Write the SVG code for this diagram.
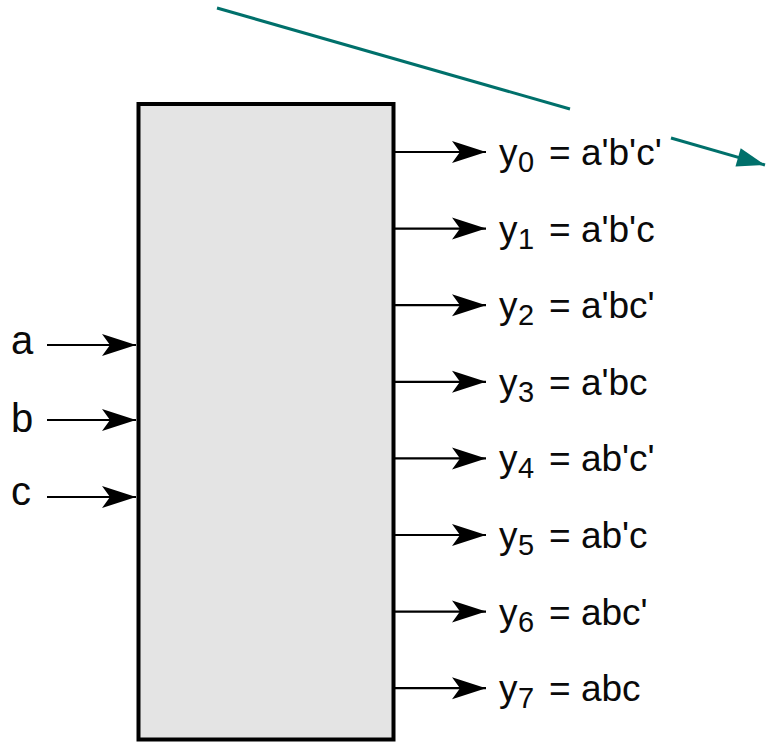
<svg xmlns="http://www.w3.org/2000/svg" width="766" height="742" viewBox="0 0 766 742">
<defs>
<style>
.lbl{font-family:"Liberation Sans",Arial,sans-serif;font-size:37px;fill:#0a0a0a}
.in{font-family:"Liberation Sans",Arial,sans-serif;font-size:40px;fill:#0a0a0a}
.sub{font-size:29px}
.wire{stroke:#000;stroke-width:2.2;fill:none;marker-end:url(#ah)}
.teal{stroke:#00706b;stroke-width:3;fill:none}
</style>
<marker id="ah" markerUnits="userSpaceOnUse" markerWidth="36" markerHeight="24" refX="34" refY="11" orient="auto" overflow="visible">
<path d="M0,0 L34,11 L0,22 L8,11 z" fill="#000"/>
</marker>
<marker id="th" markerUnits="userSpaceOnUse" markerWidth="30" markerHeight="20" refX="28" refY="9.5" orient="auto" overflow="visible">
<path d="M0,0 L28,9.5 L0,19 z" fill="#00706b"/>
</marker>
</defs>
<rect width="766" height="742" fill="#fff"/>
<g id="decoder">
<rect x="138.5" y="104" width="255" height="635.5" fill="#e4e4e4" stroke="#000" stroke-width="4"/>
</g>
<g id="connectors">
<line class="wire" x1="47" y1="345" x2="136" y2="345"/>
<line class="wire" x1="47" y1="420" x2="136" y2="420"/>
<line class="wire" x1="47" y1="497" x2="136" y2="497"/>
<line class="wire" x1="395" y1="152" x2="486" y2="152"/>
<line class="wire" x1="395" y1="228.6" x2="486" y2="228.6"/>
<line class="wire" x1="395" y1="305.2" x2="486" y2="305.2"/>
<line class="wire" x1="395" y1="381.8" x2="486" y2="381.8"/>
<line class="wire" x1="395" y1="458.4" x2="486" y2="458.4"/>
<line class="wire" x1="395" y1="535" x2="486" y2="535"/>
<line class="wire" x1="395" y1="611.6" x2="486" y2="611.6"/>
<line class="wire" x1="395" y1="688.2" x2="486" y2="688.2"/>
<line class="teal" x1="217" y1="8" x2="570" y2="109"/>
<line class="teal" x1="671" y1="138" x2="765" y2="165" marker-end="url(#th)"/>
</g>
<g id="inputs">
<text class="in" x="11" y="354">a</text>
<text class="in" x="11" y="432">b</text>
<text class="in" x="11" y="505">c</text>
</g>
<g id="outputs">
<text class="lbl" x="499" y="165">y</text><text class="lbl sub" x="518" y="172">0</text><text class="lbl" x="549" y="165">= a'b'c'</text>
<text class="lbl" x="499" y="241.6">y</text><text class="lbl sub" x="518" y="248.6">1</text><text class="lbl" x="549" y="241.6">= a'b'c</text>
<text class="lbl" x="499" y="318.2">y</text><text class="lbl sub" x="518" y="325.2">2</text><text class="lbl" x="549" y="318.2">= a'bc'</text>
<text class="lbl" x="499" y="394.8">y</text><text class="lbl sub" x="518" y="401.8">3</text><text class="lbl" x="549" y="394.8">= a'bc</text>
<text class="lbl" x="499" y="471.4">y</text><text class="lbl sub" x="518" y="478.4">4</text><text class="lbl" x="549" y="471.4">= ab'c'</text>
<text class="lbl" x="499" y="548">y</text><text class="lbl sub" x="518" y="555">5</text><text class="lbl" x="549" y="548">= ab'c</text>
<text class="lbl" x="499" y="624.6">y</text><text class="lbl sub" x="518" y="631.6">6</text><text class="lbl" x="549" y="624.6">= abc'</text>
<text class="lbl" x="499" y="701.2">y</text><text class="lbl sub" x="518" y="708.2">7</text><text class="lbl" x="549" y="701.2">= abc</text>
</g>
</svg>
